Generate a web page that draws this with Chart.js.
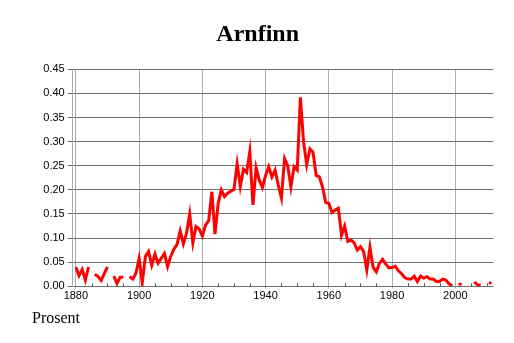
<!DOCTYPE html>
<html>
<head>
<meta charset="utf-8">
<script src="https://cdn.jsdelivr.net/npm/chart.js@4/dist/chart.umd.min.js"></script>
<style>
html,body{margin:0;padding:0;background:#ffffff;}
#wrap{width:514px;height:343px;position:relative;}
</style>
</head>
<body>
<div id="wrap"><canvas id="c" width="514" height="343"></canvas></div>
<script>
// ---- data ----
const chartTitle = 'Arnfinn';
const unitLabel = 'Prosent';
const years = [
 1880,1881,1882,1883,1884,1885,1886,1887,1888,1889,
 1890,1891,1892,1893,1894,1895,1896,1897,1898,1899,
 1900,1901,1902,1903,1904,1905,1906,1907,1908,1909,
 1910,1911,1912,1913,1914,1915,1916,1917,1918,1919,
 1920,1921,1922,1923,1924,1925,1926,1927,1928,1929,
 1930,1931,1932,1933,1934,1935,1936,1937,1938,1939,
 1940,1941,1942,1943,1944,1945,1946,1947,1948,1949,
 1950,1951,1952,1953,1954,1955,1956,1957,1958,1959,
 1960,1961,1962,1963,1964,1965,1966,1967,1968,1969,
 1970,1971,1972,1973,1974,1975,1976,1977,1978,1979,
 1980,1981,1982,1983,1984,1985,1986,1987,1988,1989,
 1990,1991,1992,1993,1994,1995,1996,1997,1998,1999,
 2000,2001,2002,2003,2004,2005,2006,2007,2008,2009,
 2010,2011
];
const shares = [
 0.040,0.022,0.035,0.013,0.040,null,0.025,0.020,0.012,0.027,
 0.040,null,0.021,0.006,0.019,0.019,null,0.020,0.015,0.027,
 0.058,0.008,0.062,0.072,0.044,0.067,0.048,0.058,0.068,0.041,
 0.062,0.077,0.087,0.115,0.088,0.110,0.150,0.090,0.124,0.119,
 0.104,0.127,0.136,0.196,0.108,0.172,0.200,0.186,0.193,0.197,
 0.201,0.254,0.207,0.243,0.236,0.279,0.169,0.246,0.220,0.205,
 0.230,0.248,0.227,0.241,0.210,0.183,0.265,0.250,0.206,0.248,
 0.241,0.392,0.300,0.252,0.285,0.278,0.230,0.227,0.206,0.174,
 0.172,0.153,0.158,0.162,0.106,0.125,0.093,0.096,0.090,0.075,
 0.082,0.072,0.034,0.081,0.039,0.030,0.048,0.056,0.046,0.038,
 0.039,0.042,0.032,0.026,0.018,0.015,0.015,0.021,0.010,0.021,
 0.017,0.020,0.015,0.015,0.010,0.010,0.015,0.013,0.005,0.001,
 null,0.004,0.005,null,null,null,0.009,0.003,0.002,null,
 null,0.007
];
const xTickValues = [1880,1900,1920,1940,1960,1980,2000];
const xMinorTickValues = [1885,1890,1895,1905,1910,1915,1925,1930,1935,1945,1950,1955,1965,1970,1975,1985,1990,1995,2005,2010];
const yTickValues = [0,0.05,0.10,0.15,0.20,0.25,0.30,0.35,0.40,0.45];

// ---- chart ----
const points = years.map((yr, i) => ({x: yr, y: shares[i]}));
const isolated = (i) => shares[i] != null && (i === 0 || shares[i-1] == null) && (i === shares.length-1 || shares[i+1] == null);

const extrasPlugin = {
  id: 'extras',
  afterDatasetsDraw(chart) {
    const ctx = chart.ctx;
    const xs = chart.scales.x;
    const area = chart.chartArea;
    ctx.save();
    ctx.strokeStyle = '#555555';
    ctx.lineWidth = 1;
    xMinorTickValues.forEach(v => {
      const px = Math.round(xs.getPixelForValue(v)) + 0.5;
      ctx.beginPath();
      ctx.moveTo(px, area.bottom);
      ctx.lineTo(px, area.bottom - 3);
      ctx.stroke();
    });
    ctx.restore();
  },
  afterDraw(chart) {
    const ctx = chart.ctx;
    ctx.save();
    ctx.fillStyle = '#000000';
    ctx.font = '16px "Liberation Serif"';
    ctx.textBaseline = 'alphabetic';
    ctx.textAlign = 'left';
    ctx.fillText(unitLabel, 32, 323);
    ctx.restore();
  }
};

new Chart(document.getElementById('c'), {
  type: 'line',
  data: {
    datasets: [{
      data: points,
      borderColor: '#ff0000',
      backgroundColor: '#ff0000',
      borderWidth: 3,
      borderJoinStyle: 'miter',
      borderCapStyle: 'butt',
      spanGaps: false,
      tension: 0,
      pointRadius: (c) => isolated(c.dataIndex) ? 1.6 : 0,
      pointBorderWidth: 0,
      pointHoverRadius: 0,
      fill: false
    }]
  },
  options: {
    responsive: false,
    animation: false,
    devicePixelRatio: 1,
    events: [],
    layout: {padding: {left: 22, right: 20.7, top: 0, bottom: 0}},
    plugins: {
      legend: {display: false},
      tooltip: {enabled: false},
      title: {
        display: true,
        text: chartTitle,
        color: '#000000',
        font: {family: '"Liberation Serif"', size: 24, weight: 'bold', lineHeight: 1.2},
        padding: {top: 20, bottom: 20.5}
      }
    },
    scales: {
      x: {
        type: 'linear',
        min: 1879,
        max: 2012,
        afterBuildTicks: (s) => { s.ticks = xTickValues.map(v => ({value: v})); },
        afterFit: (s) => { s.height = 56.7; },
        ticks: {
          color: '#000000',
          font: {family: '"Liberation Sans"', size: 11},
          maxRotation: 0,
          autoSkip: false,
          padding: 1,
          callback: (v) => String(v)
        },
        grid: {color: '#aaaaaa', lineWidth: 1, tickLength: 2, drawTicks: true},
        border: {display: false}
      },
      y: {
        min: 0,
        max: 0.45,
        afterBuildTicks: (s) => { s.ticks = yTickValues.map(v => ({value: v})); },
        afterFit: (s) => { s.width = 50.7; },
        ticks: {
          color: '#000000',
          font: {family: '"Liberation Sans"', size: 11},
          padding: 3,
          callback: (v) => Number(v).toFixed(2)
        },
        grid: {color: '#6e6e6e', lineWidth: 1, tickLength: 5, drawTicks: true},
        border: {display: true, color: '#aaaaaa', width: 1}
      }
    }
  },
  plugins: [extrasPlugin]
});
</script>
</body>
</html>
